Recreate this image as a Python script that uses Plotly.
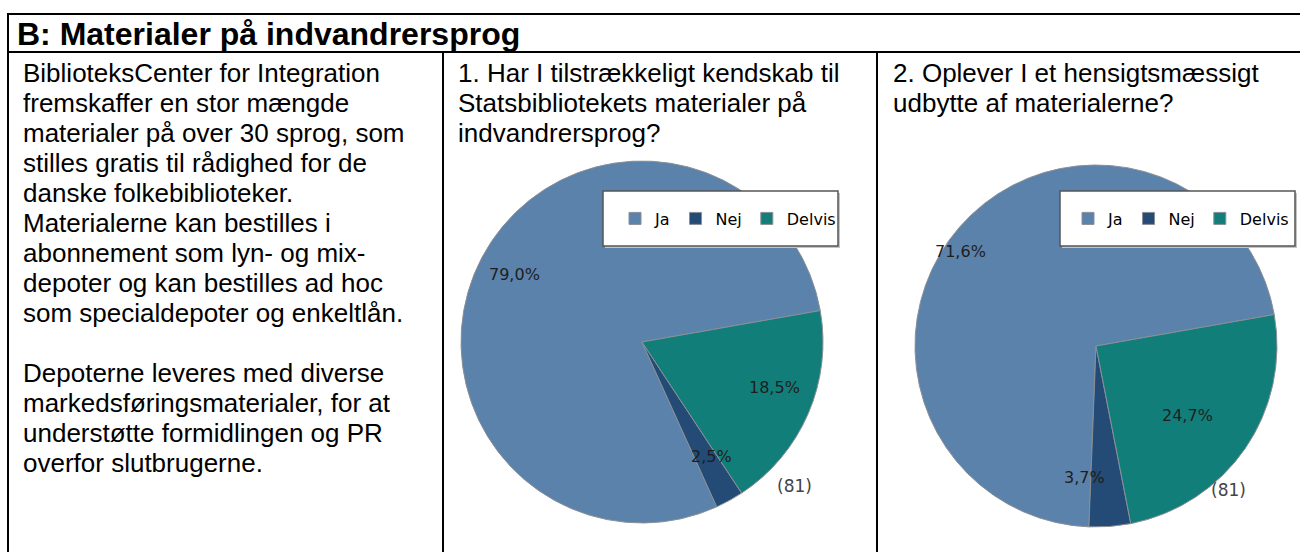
import math

import plotly.graph_objects as go

# ---------------------------------------------------------------------------
# Data
# ---------------------------------------------------------------------------

TITLE = "B: Materialer på indvandrersprog"

INTRO_LINES = [
    "BiblioteksCenter for Integration",
    "fremskaffer en stor mængde",
    "materialer på over 30 sprog, som",
    "stilles gratis til rådighed for de",
    "danske folkebiblioteker.",
    "Materialerne kan bestilles i",
    "abonnement som lyn- og mix-",
    "depoter og kan bestilles ad hoc",
    "som specialdepoter og enkeltlån.",
    "",
    "Depoterne leveres med diverse",
    "markedsføringsmaterialer, for at",
    "understøtte formidlingen og PR",
    "overfor slutbrugerne.",
]

QUESTION_1 = [
    "1. Har I tilstrækkeligt kendskab til",
    "Statsbibliotekets materialer på",
    "indvandrersprog?",
]
QUESTION_2 = [
    "2. Oplever I et hensigtsmæssigt",
    "udbytte af materialerne?",
]

answer_labels = ["Ja", "Nej", "Delvis"]
pct_q1 = [79.0, 2.5, 18.5]
pct_q2 = [71.6, 3.7, 24.7]
respondents = [81, 81]

# ---------------------------------------------------------------------------
# Style
# ---------------------------------------------------------------------------

W, H = 1300, 552
SLICE_COLORS = ["#5b82ab", "#234b76", "#127e7a"]
ARIAL = "Liberation Sans, Arial, sans-serif"
DEJAVU = "DejaVu Sans, sans-serif"
START_ANGLE = 10          # degrees, counter-clockwise from 3 o'clock
LABEL_RADIUS = 0.795      # fraction of pie radius
LINE_STEP = 30

# pie geometry in pixels: centre x, centre y (from top), radius
PIES = [(642, 342, 181), (1096, 346, 181)]


def px(x):
    return x / W


def py(y):
    return 1 - y / H


def fmt_pct(v):
    return f"{v:.1f}%".replace(".", ",")


fig = go.Figure()

for i, (values, (cx, cy, r)) in enumerate(zip([pct_q1, pct_q2], PIES)):
    # plotly puts the first slice clockwise of `rotation` when the direction
    # is counterclockwise, so shift by the first slice to start at START_ANGLE
    rotation = 90 - START_ANGLE + 360 * (1 - values[0] / sum(values))
    rotation = (rotation + 180) % 360 - 180
    fig.add_trace(
        go.Pie(
            labels=answer_labels,
            values=values,
            sort=False,
            direction="counterclockwise",
            rotation=rotation,
            marker=dict(colors=SLICE_COLORS, line=dict(color="#8a8f96", width=1)),
            textinfo="none",
            hoverinfo="label+percent",
            domain=dict(x=[px(cx - r), px(cx + r)], y=[py(cy + r), py(cy - r)]),
            legend="legend" if i == 0 else "legend2",
            legendgroup=f"q{i + 1}",
        )
    )

annotations = []
shapes = []

# slice labels, placed along each slice's middle angle
for values, (cx, cy, r), n in zip([pct_q1, pct_q2], PIES, respondents):
    total = sum(values)
    cum = 0.0
    for v in values:
        mid = math.radians(START_ANGLE + 360 * (cum + v / 2) / total)
        cum += v
        annotations.append(dict(
            x=px(cx + LABEL_RADIUS * r * math.cos(mid)),
            y=py(cy - LABEL_RADIUS * r * math.sin(mid)),
            text=fmt_pct(v), showarrow=False,
            font=dict(family=DEJAVU, size=16, color="#1e1e1e"),
        ))
    annotations.append(dict(
        x=px(cx + 0.84 * r), y=py(cy + 0.86 * r),
        text=f"({n})", showarrow=False,
        font=dict(family=DEJAVU, size=17, color="#444444"),
    ))

# title
annotations.append(dict(
    x=px(15), y=py(34), xanchor="left", yanchor="middle",
    text=f"<b>{TITLE}</b>", showarrow=False,
    font=dict(family=ARIAL, size=32, color="black"),
))

# text columns
for x0, lines in [(21, INTRO_LINES), (456, QUESTION_1), (891, QUESTION_2)]:
    for k, line in enumerate(lines):
        if not line:
            continue
        annotations.append(dict(
            x=px(x0), y=py(73 + k * LINE_STEP), xanchor="left", yanchor="middle",
            text=line, showarrow=False,
            font=dict(family=ARIAL, size=26, color="black"),
        ))

# table rules
rule = dict(color="black", width=2)
shapes += [
    dict(type="line", x0=px(7), x1=1, y0=py(14), y1=py(14), line=rule),
    dict(type="line", x0=px(7), x1=1, y0=py(52), y1=py(52), line=rule),
    dict(type="line", x0=px(8), x1=px(8), y0=py(13), y1=0, line=rule),
    dict(type="line", x0=px(443), x1=px(443), y0=py(52), y1=0, line=rule),
    dict(type="line", x0=px(877), x1=px(877), y0=py(52), y1=0, line=rule),
]

# legend boxes
LEGEND_BOXES = [(603, 191, 838, 246), (1060, 191, 1295, 246)]
for x0, y0, x1, y1 in LEGEND_BOXES:
    shapes.append(dict(
        type="rect", layer="above",
        x0=px(x0 + 2), x1=px(x1 + 2), y0=py(y1 + 2), y1=py(y0 + 2),
        fillcolor="#c4c4c4", line=dict(width=0),
    ))
    shapes.append(dict(
        type="rect", layer="above",
        x0=px(x0), x1=px(x1), y0=py(y1), y1=py(y0),
        fillcolor="white", line=dict(color="#555555", width=1.5),
    ))

legend_style = dict(
    orientation="h",
    traceorder="normal",
    xanchor="left",
    yanchor="middle",
    bgcolor="rgba(0,0,0,0)",
    borderwidth=0,
    font=dict(family=DEJAVU, size=16, color="black"),
    itemwidth=30,
    itemclick=False,
)
(a0, b0, a1, b1), (c0, d0, c1, d1) = LEGEND_BOXES

fig.update_layout(
    width=W,
    height=H,
    margin=dict(l=0, r=0, t=0, b=0, autoexpand=False),
    paper_bgcolor="white",
    plot_bgcolor="white",
    showlegend=True,
    legend=dict(legend_style, x=px(a0 + 12), y=py((b0 + b1) / 2)),
    legend2=dict(legend_style, x=px(c0 + 8), y=py((d0 + d1) / 2)),
    annotations=annotations,
    shapes=shapes,
)

# drop the default page margin so the figure sits at the window's corner
fig.write_html(
    "out.html",
    config={"displayModeBar": False},
    post_script="document.body.style.margin='0';document.body.style.overflow='hidden';",
)
